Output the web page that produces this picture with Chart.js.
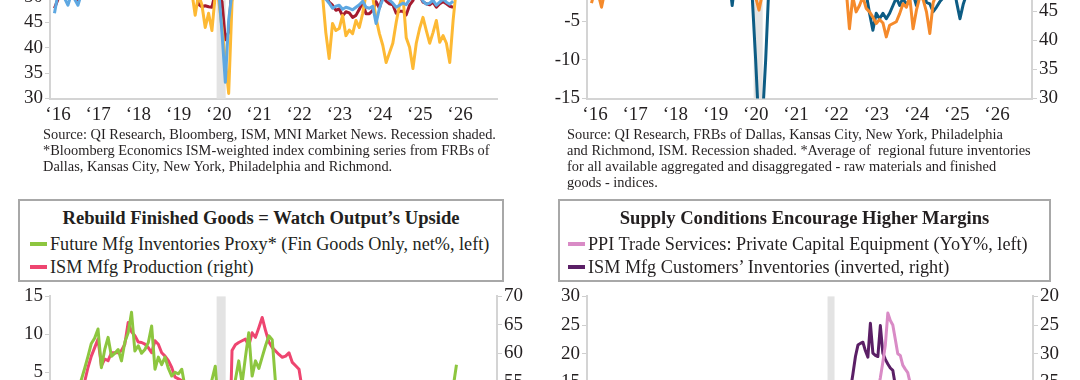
<!DOCTYPE html>
<html>
<head>
<meta charset="utf-8">
<title>Manufacturing inventories charts</title>
<script src="https://cdn.jsdelivr.net/npm/chart.js@4.4.1/dist/chart.umd.min.js"></script>
<style>
  html, body { margin:0; padding:0; background:#fff; }
  body { width:1080px; height:380px; overflow:hidden; position:relative; font-family:'Liberation Serif','Times New Roman',serif; color:#231f20; }
  canvas { position:absolute; }
  .src { position:absolute; top:126px; font-size:14.4px; line-height:16px; white-space:nowrap; }
  .box { position:absolute; top:199px; height:83px; border:2px solid #a8a8a8; box-sizing:border-box; background:#fff; }
  .ttl { position:absolute; left:0; right:0; top:6px; text-align:center; font-weight:bold; font-size:18.6px; line-height:22px; white-space:nowrap; }
  .lg { position:absolute; font-size:18.2px; line-height:22px; white-space:nowrap; }
  .mk { position:absolute; width:17px; height:4px; }
</style>
</head>
<body>
<canvas id="tl" width="540" height="290" style="left:0;top:-150px"></canvas>
<canvas id="tr" width="540" height="290" style="left:540px;top:-150px"></canvas>
<canvas id="bl" width="540" height="300" style="left:0;top:283px"></canvas>
<canvas id="br" width="540" height="300" style="left:540px;top:283px"></canvas>

<div class="src" style="left:43px">Source: QI Research, Bloomberg, ISM, MNI Market News. Recession shaded.<br>*Bloomberg Economics ISM-weighted index combining series from FRBs of<br>Dallas, Kansas City, New York, Philadelphia and Richmond.</div>
<div class="src" style="left:567px">Source: QI Research, FRBs of Dallas, Kansas City, New York, Philadelphia<br>and Richmond, ISM. Recession shaded. *Average of&nbsp; regional future inventories<br>for all available aggregated and disaggregated - raw materials and finished<br>goods - indices.</div>

<div class="box" style="left:18px;width:486px">
  <div class="ttl">Rebuild Finished Goods = Watch Output’s Upside</div>
  <div class="mk" style="left:10px;top:41px;background:#8dc63f"></div>
  <div class="lg" style="left:30px;top:32px">Future Mfg Inventories Proxy* (Fin Goods Only, net%, left)</div>
  <div class="mk" style="left:10px;top:64px;background:#ee4570"></div>
  <div class="lg" style="left:30px;top:55px">ISM Mfg Production (right)</div>
</div>
<div class="box" style="left:558px;width:493px">
  <div class="ttl">Supply Conditions Encourage Higher Margins</div>
  <div class="mk" style="left:8px;top:41px;background:#d98bc6"></div>
  <div class="lg" style="left:28px;top:32px">PPI Trade Services: Private Capital Equipment (YoY%, left)</div>
  <div class="mk" style="left:8px;top:64px;background:#5b1f66"></div>
  <div class="lg" style="left:28px;top:55px">ISM Mfg Customers’ Inventories (inverted, right)</div>
</div>

<script>
// ---------------- DATA ----------------
// Monthly series, top charts & bottom-left start Jan 2016 (index 0)
const YEAR_LABELS_16 = ['‘16','‘17','‘18','‘19','‘20','‘21','‘22','‘23','‘24','‘25','‘26'];
const YEAR_LABELS_12 = ['‘12','‘13','‘14','‘15','‘16','‘17','‘18','‘19','‘20','‘21','‘22','‘23','‘24','‘25','‘26'];

// Top-left: ISM manufacturing PMI (dark red)
const TL_ISM = [
47.8,49.5,51.8,50.8,51.3,53.2,52.6,49.4,51.5,51.9,53.2,54.7,
56.0,57.7,57.2,54.8,54.9,57.8,56.3,58.8,60.8,58.7,58.2,59.7,
59.1,60.8,59.3,57.3,58.7,60.2,58.1,61.3,59.8,57.7,59.3,54.1,
56.6,54.2,55.3,52.8,52.1,51.7,51.2,48.6,48.1,48.3,48.1,48.0,
50.9,50.1,49.1,41.6,43.1,52.6,54.2,56.0,55.4,59.3,57.5,60.7,
58.7,60.8,64.7,60.7,61.2,60.6,59.5,59.9,61.1,60.8,61.1,58.7,
57.6,58.6,57.1,55.4,56.1,53.0,52.8,52.8,50.9,50.2,49.0,48.4,
47.4,47.7,46.3,47.1,46.9,46.0,46.4,47.6,49.0,46.7,46.7,47.4,
49.1,47.8,50.3,49.2,48.7,48.5,46.8,47.2,47.2,46.5,48.4,49.3,
50.9,50.3,49.0,48.7,48.5,49.0,48.0,48.7,49.1,48.7,48.2,48.0];
// Top-left: Bloomberg ISM-weighted regional index (light blue)
const TL_REGIONAL = [
46.8,50.5,50.8,49.8,48.4,50.5,49.6,48.4,50.6,51.2,52.4,54.0,
55.5,57.0,56.8,55.5,54.8,56.2,55.8,56.6,57.8,57.2,57.6,58.2,
58.5,58.8,57.6,57.2,57.5,57.0,56.4,57.2,56.2,55.6,55.0,53.6,
53.4,52.6,52.4,51.6,51.2,50.6,50.4,50.0,49.8,50.2,50.4,50.6,
51.2,51.6,43.0,33.2,45.5,51.0,55.0,57.0,58.0,59.5,58.5,60.0,
60.5,61.0,62.5,61.0,61.5,60.5,59.8,59.5,60.0,59.5,59.0,58.0,
57.2,57.5,56.5,55.0,54.0,52.0,51.0,50.5,50.0,49.6,48.8,47.8,
48.2,48.4,47.6,48.0,47.8,47.5,48.0,48.5,49.2,48.0,47.8,48.2,
44.8,47.8,49.6,50.0,49.4,48.8,48.0,48.4,48.8,48.5,49.6,50.2,
51.0,50.6,49.2,48.6,48.8,49.4,48.4,49.0,49.6,49.0,48.6,49.2];
// Top-left: third series (yellow)
const TL_THIRD = [
50.5,51.5,52.5,53.0,51.0,52.0,51.5,50.0,52.0,53.5,55.0,57.0,
58.0,60.0,61.0,58.5,57.0,59.0,58.5,60.0,62.0,61.0,61.5,62.0,
61.5,63.0,61.0,59.0,60.5,61.0,58.5,59.5,58.0,57.0,56.0,54.0,
55.0,53.5,54.0,52.0,51.5,51.0,46.4,50.5,48.5,44.0,46.8,43.4,
50.5,49.5,44.0,37.5,31.0,49.0,54.0,56.0,58.0,60.0,59.0,61.0,
62.0,63.0,65.0,62.0,63.0,61.0,60.0,60.5,61.0,60.0,59.0,58.0,
56.0,57.0,55.0,54.0,53.0,51.0,52.0,51.5,50.5,43.0,37.9,44.8,
43.4,43.8,46.4,42.4,43.5,42.8,45.4,44.0,46.8,50.5,52.0,50.0,
45.8,42.8,40.5,37.1,39.0,40.9,45.0,48.5,50.5,42.0,40.1,35.9,
40.9,43.8,46.0,43.4,40.9,43.0,45.4,41.1,42.4,40.9,37.1,45.4,
52.0];

// Top-right: future inventories proxy (teal, left, net%)
const TR_FUT_INV = [
2.0,4.0,5.0,3.0,4.5,6.0,5.0,4.0,6.0,7.0,9.0,11.0,
12,14,13,11,12,13,12,14,15,14,15,16,
15,16,14,13,14,12,12,13,11,10,9,6,
7,5,5,3,2,1,-3.0,0.5,-0.5,0,1.0,0.5,
-2.0,-10,-19,-18,-10,0,4,6,8,10,9,12,
14,15,18,17,18,16,15,16,15,14,13,12,
10,9,8,6,5,3,2,1,0,-1,-1.5,-4.0,
-6.2,-4.0,-4.7,-4.0,-4.7,-4.0,-3.0,-2.0,-3.0,-2.0,-3.0,-2.0,
-1.5,-3.0,-1.8,-1.0,-2.6,-2.8,-3.8,-3.2,-2.5,-2.0,0,1,
0,-2.6,-4.7,-2.8,-1.5,1,2,3,2,4,3,5,
6];
// Top-right: ISM index (orange, right)
const TR_ISM = [
46.4,48.5,48.0,45.7,48.5,49.5,49.0,48.0,49.5,50.5,51.0,52.0,
53,54,55,54,55,56,55,57,58,57,58,59,
58,59,57,56,57,58,56,57,56,55,54,52,
52,51,51,50,49.5,49,48.5,49,48,48.5,48.5,48,
48,47.5,45.2,48,50,52,54,55,56,57,56,58,
58,59,61,60,60,59,58,58,57,57,56,55,
54,53,52,51,49,42.0,47.5,44.9,46.0,47.5,45.5,44.9,
44.0,42.9,43.6,43.0,40.6,42.6,42.9,43.2,44.6,46.3,45.7,47.5,
42.0,45.2,47.5,47.0,44.9,41.2,46.5,48.0,48.5,49,50,50.5,
50,51,50,49.5,49,50,49.5,50,51,50.5,49.5,50,
51];

// Bottom-left: future mfg inventories proxy, finished goods (green, left)
const BL_FIN_GOODS = [
1.0,0.0,-1.0,0.5,1.0,2.0,2.5,3.0,4.0,5.5,7.1,8.8,
9.5,10.7,5.6,8.0,9.6,7.1,7.5,8.0,6.5,9.0,10.2,12.9,
7.8,8.5,7.5,8.0,8.9,11.1,5.4,7.0,6.0,7.0,5.5,4.5,
5.0,4.8,5.4,3.0,2.0,1.0,0.0,-1.0,0.0,1.0,2.0,4.0,
5.8,0.0,-8.0,-13.0,-6.0,1.0,4.0,6.5,3.5,7.0,10.2,4.5,
6.5,5.5,7.0,8.5,9.8,9.3,3.5,2.5,1.0,0.0,-1.0,-2.0,
-3,-2,-4,-5,-6,-5,-7,-8,-6,-7,-9,-8,
-8,-7,-9,-6,-8,-7,-6,-5,-7,-6,-4,-5,
-3,-4,-2,-3,-5,-4,-3,-1,-2,0,1,0,
2,0,1,-1,0,2,1,3,2,1,0,3,
6.0];
// Bottom-left: ISM mfg production (pink-red, right)
const BL_PRODUCTION = [
50.5,51.5,52.0,51.5,52.5,52.0,53.0,52.5,53.5,55.0,57.5,59.5,
61.0,62.5,57.8,59.0,58.7,60.1,60.1,60.1,60.5,61.6,65.4,63.8,
63.1,62.0,61.9,61.6,61.0,60.1,62.2,61.6,60.1,59.5,58.7,57.5,
55.8,55.5,55.2,53.5,52.5,51.5,50.5,49.5,48.0,47.0,47.5,46.0,
50.0,49.0,45.5,30.0,38.0,60.5,61.5,61.9,62.2,62.5,61.3,63.6,
62.8,64.5,66.3,64.0,62.0,61.0,60.4,59.8,59.3,59.5,60.1,58.4,
57.8,57.2,53.5,53.0,52.5,52.0,51.0,50.5,50.0,51.0,50.5,48.5,
47.5,47.0,48.0,48.5,47.5,46.5,46.0,46.5,48.0,47.0,46.5,46.0,
47.0,49.0,48.5,50.0,49.0,48.5,47.0,46.5,46.0,45.5,46.0,48.5,
50.5,51.0,49.5,47.0,46.5,48.0,49.0,48.5,49.0,49.5,50.0,51.0];

// Bottom-right: months since Jan 2012; series start Jan 2019 (index 84)
const BR_START = 84;
const BR_PPI = [
2.5,2.0,2.5,3.0,2.5,2.0,1.5,2.0,1.5,1.0,1.5,2.0,
2.0,1.5,0.5,-1.5,-2.0,-1.0,-0.5,0.0,0.5,1.0,1.5,2.5,
3.0,4.0,5.5,7.0,8.0,8.5,9.5,10.0,11.0,13.5,15.8,18.5,
21.5,27.1,25.8,25.0,22.5,20.0,19.7,18.0,17.3,16.7,14.8,12.5,
9.5,8.0,6.5,5.5,4.5,4.0,3.5,3.0,2.5,2.0,2.5,3.0,
3.0,2.5,2.0,2.5,3.0,2.5,2.0,2.5,3.0,2.5,3.0,3.5,
3.5,4.0,4.5,5.0,5.5,5.0,6.0,5.5,6.5,6.0,5.5,6.0];
const BR_CUST_INV = [
44,43.5,44,43,44.5,45,44,43.5,45,44.5,45,46,
45,44,43,46.5,47,44,42,40,38.5,37.5,36.3,33.5,
30.5,28.5,28.2,28.0,29.5,30.6,24.7,29.9,30.3,30.5,25.1,29.9,
31.0,31.8,32.5,32.9,35.5,36.5,37.0,38.5,39.0,40.0,41.0,42.0,
43,44,45,46,46.5,47,48,47.5,48,49,48,49,
47,46,47.5,48,49,48,47,46,48,47,46,45,
46,45,44,45,44,45.5,45,44,45,46,45.5,44];

// Recessions (month index units on each chart's own time axis)
const REC_2016_BASE = [48.4, 51.1];
const REC_2012_BASE = [96.8, 99.6];

// ---------------- STYLE / HELPERS ----------------
Chart.defaults.font.family = "'Liberation Serif','Times New Roman',serif";
Chart.defaults.font.size = 19;
Chart.defaults.color = '#231f20';
Chart.defaults.animation = false;

const AXIS = '#d4d4d4';

const recessionPlugin = {
  id: 'recession',
  beforeDatasetsDraw(chart, args, opts) {
    const {ctx, chartArea, scales} = chart;
    const x = scales.x;
    const x1 = x.getPixelForValue(opts.from), x2 = x.getPixelForValue(opts.to);
    ctx.save();
    ctx.fillStyle = opts.color || '#e3e3e3';
    ctx.fillRect(x1, chartArea.top, x2 - x1, chartArea.bottom - chartArea.top);
    ctx.restore();
  }
};
Chart.register(recessionPlugin);

function series(label, values, start, color, axis) {
  return {
    label, yAxisID: axis, borderColor: color, borderWidth: 3, pointRadius: 0,
    tension: 0, fill: false, borderJoinStyle: 'round',
    data: values.map((v, i) => ({x: start + i, y: v}))
  };
}

function yAxis(pos, min, max, width, reverse) {
  return {
    type: 'linear', position: pos, min, max, reverse: !!reverse,
    afterFit: s => { s.width = width; },
    ticks: { stepSize: 5, padding: 2, autoSkip: false, font: {size: 19} },
    grid: { drawOnChartArea: false, drawTicks: true, tickLength: 5, color: '#cfcfcf', lineWidth: 1 },
    border: { display: true, color: AXIS, width: 2 }
  };
}

function xAxis(min, max, labels, height) {
  return {
    type: 'linear', min, max,
    afterBuildTicks: s => { s.ticks = labels.map((_, i) => ({value: i * 12})); },
    afterFit: s => { s.height = height; },
    ticks: { callback: (v, i) => labels[i], labelOffset: 3.5, padding: 5, autoSkip: false, maxRotation: 0, font: {size: 19} },
    grid: { display: false, drawTicks: false },
    border: { display: true, color: AXIS, width: 2 }
  };
}

function make(id, datasets, scales, padding, rec) {
  return new Chart(document.getElementById(id), {
    type: 'line',
    data: { datasets },
    options: {
      responsive: false, devicePixelRatio: 1, animation: false,
      layout: { padding },
      plugins: { legend: { display: false }, tooltip: { enabled: false }, recession: { from: rec[0], to: rec[1] } },
      scales
    }
  });
}

// ---------------- CHARTS ----------------
make('tl', [
    series('Regional (ISM-weighted)*', TL_REGIONAL, 0, '#5ea8e2', 'y'),
    series('Regional composite', TL_THIRD, 0, '#fdb934', 'y'),
    series('ISM Mfg', TL_ISM, 0, '#a51b2f', 'y')
  ],
  { x: xAxis(-1.34, 132.1, YEAR_LABELS_16, 41.5), y: yAxis('left', 30, 70, 50) },
  { top: 45.7, left: 0, right: 43, bottom: 0 }, REC_2016_BASE);

make('tr', [
    series('ISM Mfg Inventories', TR_ISM, 0, '#f58a2b', 'y2'),
    series('Future Inventories Proxy*', TR_FUT_INV, 0, '#0d5c84', 'y')
  ],
  { x: xAxis(-1.34, 131.5, YEAR_LABELS_16, 41.5), y: yAxis('left', -15, 15, 47), y2: yAxis('right', 30, 70, 48) },
  { top: 16, left: 0, right: 0, bottom: 0 }, REC_2016_BASE);

make('bl', [
    series('Future Mfg Inventories Proxy* (Fin Goods Only, net%, left)', BL_FIN_GOODS, 0, '#8dc63f', 'y'),
    series('ISM Mfg Production (right)', BL_PRODUCTION, 0, '#ee4570', 'y2')
  ],
  { x: xAxis(-1.34, 132.1, YEAR_LABELS_16, 59), y: yAxis('left', -15, 15, 50), y2: yAxis('right', 30, 70, 43) },
  { top: 13, left: 0, right: 0, bottom: 0 }, REC_2016_BASE);

make('br', [
    series('PPI Trade Services: Private Capital Equipment (YoY%, left)', BR_PPI, BR_START, '#d98bc6', 'y'),
    series('ISM Mfg Customers’ Inventories (inverted, right)', BR_CUST_INV, BR_START, '#5b1f66', 'y2')
  ],
  { x: xAxis(0.2, 179.3, YEAR_LABELS_12, 57.5), y: yAxis('left', -10, 30, 47), y2: yAxis('right', 20, 60, 47, true) },
  { top: 12.5, left: 0, right: 0, bottom: 0 }, REC_2012_BASE);
</script>
</body>
</html>
